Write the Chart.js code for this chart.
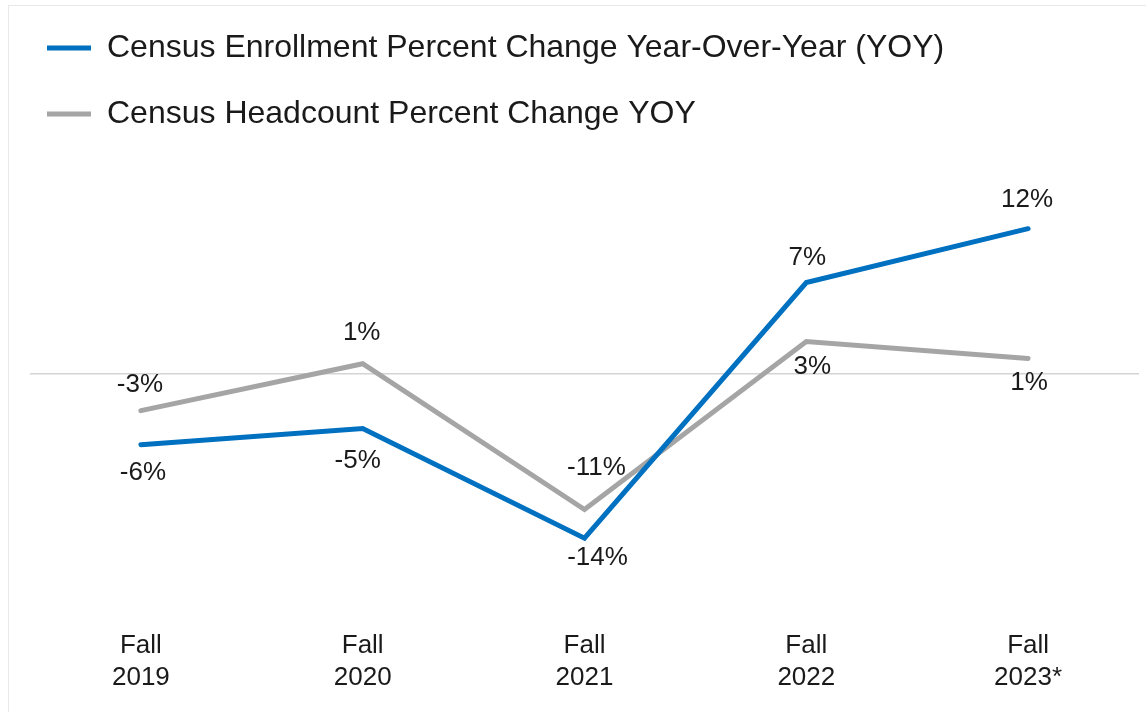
<!DOCTYPE html>
<html>
<head>
<meta charset="utf-8">
<script src="https://cdn.jsdelivr.net/npm/chart.js@4.4.1/dist/chart.umd.min.js"></script>
<style>
  html, body { margin: 0; padding: 0; background: #ffffff; overflow: hidden; width: 1146px; height: 712px; }
  #frame { position: absolute; left: 8px; top: 5px; width: 1300px; height: 900px; border: 1px solid #e8e8e8; box-sizing: border-box; }
  #wrap { position: absolute; left: 0; top: -2px; width: 1146px; height: 714px; }
</style>
</head>
<body>
<div id="frame"></div>
<div id="wrap"><canvas id="c" width="1146" height="714"></canvas></div>
<script>
// ---- Data ----
const categories = [["Fall", "2019"], ["Fall", "2020"], ["Fall", "2021"], ["Fall", "2022"], ["Fall", "2023*"]];
const seriesNames = [
  "Census Enrollment Percent Change Year-Over-Year (YOY)",
  "Census Headcount Percent Change YOY"
];
const enrollmentValues = [-5.93, -4.58, -13.76, 7.65, 12.17];
const headcountValues = [-3.08, 0.85, -11.36, 2.71, 1.30];
const enrollmentLabels = ["-6%", "-5%", "-14%", "7%", "12%"];
const headcountLabels = ["-3%", "1%", "-11%", "3%", "1%"];

const FONT = "'Liberation Sans', Arial, sans-serif";

// Value-label plugin: draws text at each point's position given by the library
const valueLabels = {
  id: 'valueLabels',
  afterDatasetsDraw(chart, args, opts) {
    const ctx = chart.ctx;
    ctx.save();
    ctx.font = opts.size + 'px ' + FONT;
    ctx.fillStyle = opts.color;
    ctx.textAlign = 'center';
    ctx.textBaseline = 'middle';
    chart.data.datasets.forEach((ds, di) => {
      const meta = chart.getDatasetMeta(di);
      const texts = opts.texts[di];
      const offs = opts.offsets[di];
      meta.data.forEach((pt, i) => {
        const o = offs[i];
        ctx.fillText(texts[i], pt.x + o[0], pt.y + o[1]);
      });
    });
    ctx.restore();
  }
};

new Chart(document.getElementById('c'), {
  type: 'line',
  data: {
    labels: categories,
    datasets: [
      {
        label: seriesNames[0],
        data: enrollmentValues,
        borderColor: '#0070C0',
        backgroundColor: '#0070C0',
        borderWidth: 5,
        pointRadius: 0,
        tension: 0,
        borderCapStyle: 'round',
        borderJoinStyle: 'miter'
      },
      {
        label: seriesNames[1],
        data: headcountValues,
        borderColor: '#A5A5A5',
        backgroundColor: '#A5A5A5',
        borderWidth: 5,
        pointRadius: 0,
        tension: 0,
        borderCapStyle: 'round',
        borderJoinStyle: 'miter'
      }
    ]
  },
  options: {
    responsive: false,
    animation: false,
    devicePixelRatio: 1,
    layout: { padding: { left: 13, right: 7, top: 0, bottom: 1 } },
    scales: {
      x: {
        offset: true,
        grid: { display: false, drawTicks: false },
        border: { display: false },
        ticks: {
          padding: 18,
          color: '#1a1a1a',
          maxRotation: 0,
          autoSkip: false,
          font: { family: FONT, size: 26, lineHeight: 1.2 }
        }
      },
      y: {
        min: -20,
        max: 19.6,
        afterFit(scale) { scale.width = 17; },
        ticks: { display: false, stepSize: 2 },
        border: { display: false },
        grid: {
          drawTicks: false,
          lineWidth: 1.5,
          color: (c) => (c.tick && c.tick.value === 0 ? '#d4d4d4' : 'rgba(0,0,0,0)')
        }
      }
    },
    plugins: {
      tooltip: { enabled: false },
      legend: {
        display: true,
        position: 'top',
        align: 'start',
        labels: {
          boxWidth: 44,
          boxHeight: 5,
          padding: 34,
          color: '#1a1a1a',
          font: { family: FONT, size: 32 },
          generateLabels(chart) {
            return chart.data.datasets.map((ds, i) => ({
              text: ds.label,
              fillStyle: ds.borderColor,
              strokeStyle: ds.borderColor,
              lineWidth: 0,
              hidden: false,
              datasetIndex: i,
              fontColor: '#1a1a1a'
            }));
          }
        }
      },
      valueLabels: {
        size: 26,
        color: '#1a1a1a',
        texts: [enrollmentLabels, headcountLabels],
        offsets: [
          [[2, 28], [-5, 32], [13, 20], [1, -25], [-1, -29]],
          [[-1, -26], [-1, -31], [12, -42], [6, 25], [1, 24]]
        ]
      }
    }
  },
  plugins: [valueLabels]
});
</script>
</body>
</html>
